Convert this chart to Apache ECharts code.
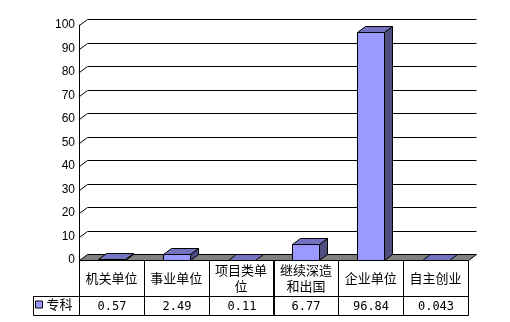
<!DOCTYPE html>
<html><head><meta charset="utf-8">
<script src="https://cdn.jsdelivr.net/npm/echarts@6/dist/echarts.min.js"></script>
<style>html,body{margin:0;padding:0;background:#fff}#c{width:510px;height:322px}</style>
</head><body><div id="c"></div>
<script>
const categories = ['机关单位', '事业单位', '项目类单位', '继续深造和出国', '企业单位', '自主创业'];
const seriesName = '专科';
const values = [0.57, 2.49, 0.11, 6.77, 96.84, 0.043];
const valueLabels = ['0.57', '2.49', '0.11', '6.77', '96.84', '0.043'];
const yTicks = [10, 20, 30, 40, 50, 60, 70, 80, 90, 100];

const DX = 8, DY = -6;
const FRONT = '#9999FF', TOP = '#7373BF', SIDE = '#4D4D80', FLOOR = '#808080';
const BAR_W = 27, ROW1 = 36, ROW2 = 19, LEG_W = 46;
const px = v => Math.round(v) + 0.5;
const line = { stroke: '#000', lineWidth: 1 };

const chart = echarts.init(document.getElementById('c'), null, { renderer: 'canvas' });

const gridSeries = {
  type: 'custom', name: 'grid', silent: true, z: 1,
  data: yTicks.map(v => [0, v]),
  renderItem(params, api) {
    const cs = params.coordSys;
    const y = px(api.coord([0, api.value(1)])[1]);
    const x0 = px(cs.x), x1 = px(cs.x + cs.width);
    return { type: 'polyline', shape: { points: [[x0, y], [x0 + DX, y + DY], [x1 + DX, y + DY]] },
      style: Object.assign({ fill: null }, line) };
  }
};

const floorSeries = {
  type: 'custom', name: 'floor', silent: true, z: 2,
  data: [[0, 0]],
  renderItem(params, api) {
    const cs = params.coordSys;
    const y = px(api.coord([0, 0])[1]);
    const x0 = px(cs.x), x1 = px(cs.x + cs.width);
    return { type: 'polygon', shape: { points: [[x0, y], [x1, y], [x1 + DX, y + DY], [x0 + DX, y + DY]] },
      style: Object.assign({ fill: FLOOR }, line) };
  }
};

const barSeries = {
  type: 'custom', name: seriesName, z: 3,
  itemStyle: { color: FRONT },
  data: values.map((v, i) => [i, v]),
  encode: { x: 0, y: 1 },
  renderItem(params, api) {
    const i = api.value(0), v = api.value(1);
    const top = api.coord([i, v]), base = api.coord([i, 0]);
    const xl = px(top[0] - BAR_W / 2), xr = px(top[0] + BAR_W / 2);
    const yt = px(top[1]), yb = px(base[1]);
    const children = [];
    if (yb - yt >= 1) {
      children.push({ type: 'polygon', shape: { points: [[xl, yt], [xr, yt], [xr, yb], [xl, yb]] }, style: Object.assign({ fill: FRONT }, line) });
      children.push({ type: 'polygon', shape: { points: [[xr, yt], [xr + DX, yt + DY], [xr + DX, yb + DY], [xr, yb]] }, style: Object.assign({ fill: SIDE }, line) });
    }
    children.push({ type: 'polygon', shape: { points: [[xl, yt], [xr, yt], [xr + DX, yt + DY], [xl + DX, yt + DY]] }, style: Object.assign({ fill: TOP }, line) });
    return { type: 'group', children };
  }
};

const tableSeries = {
  type: 'custom', name: 'table', silent: true, z: 4,
  data: values.map((v, i) => [i, v]),
  renderItem(params, api) {
    const i = api.value(0);
    const c = api.coord([i, 0]);
    const bw = api.size([1, 0])[0];
    const xl = px(c[0] - bw / 2), xr = px(c[0] + bw / 2);
    const y0 = px(c[1]), y1 = y0 + ROW1, y2 = y1 + ROW2;
    const children = [
      { type: 'polyline', shape: { points: [[xl, y0], [xl, y2]] }, style: Object.assign({ fill: null }, line) },
      { type: 'polyline', shape: { points: [[xr, y0], [xr, y2]] }, style: Object.assign({ fill: null }, line) },
      { type: 'polyline', shape: { points: [[xl, y1], [xr, y1]] }, style: Object.assign({ fill: null }, line) },
      { type: 'polyline', shape: { points: [[xl, y2], [xr, y2]] }, style: Object.assign({ fill: null }, line) },
      { type: 'text', style: { text: valueLabels[i], x: (xl + xr) / 2, y: (y1 + y2) / 2 + 1, align: 'center', verticalAlign: 'middle', font: '12px "DejaVu Sans Mono"', fill: '#000' } }
    ];
    if (i === 0) {
      const xa = xl - LEG_W;
      children.push({ type: 'polyline', shape: { points: [[xl, y1], [xa, y1], [xa, y2], [xl, y2]] }, style: Object.assign({ fill: null }, line) });
    }
    return { type: 'group', children };
  }
};

chart.setOption({
  animation: false,
  backgroundColor: '#fff',
  grid: { left: 79, right: 42, top: 25, bottom: 62 },
  legend: {
    data: [seriesName], left: 35, top: 298, padding: 0,
    icon: 'rect', itemWidth: 7, itemHeight: 7, itemGap: 4,
    itemStyle: { color: FRONT, borderColor: '#000', borderWidth: 1 },
    textStyle: { fontSize: 13, color: '#000', fontFamily: 'Noto Sans CJK SC', padding: [0, 0, 0, -1] }
  },
  xAxis: {
    type: 'category', data: categories,
    axisLine: { show: false }, axisTick: { show: false }, splitLine: { show: false },
    axisLabel: { interval: 0, margin: 18, verticalAlign: 'middle', width: 58, overflow: 'break', lineHeight: 16,
      fontSize: 13, color: '#000', fontFamily: 'Noto Sans CJK SC' }
  },
  yAxis: {
    type: 'value', min: 0, max: 100, interval: 10,
    axisLine: { show: true, lineStyle: { color: '#000', width: 1 } },
    axisTick: { show: false }, splitLine: { show: false },
    axisLabel: { margin: 4, fontSize: 12, color: '#000', fontFamily: 'Liberation Sans' }
  },
  series: [gridSeries, floorSeries, barSeries, tableSeries]
});
</script>
</body></html>
